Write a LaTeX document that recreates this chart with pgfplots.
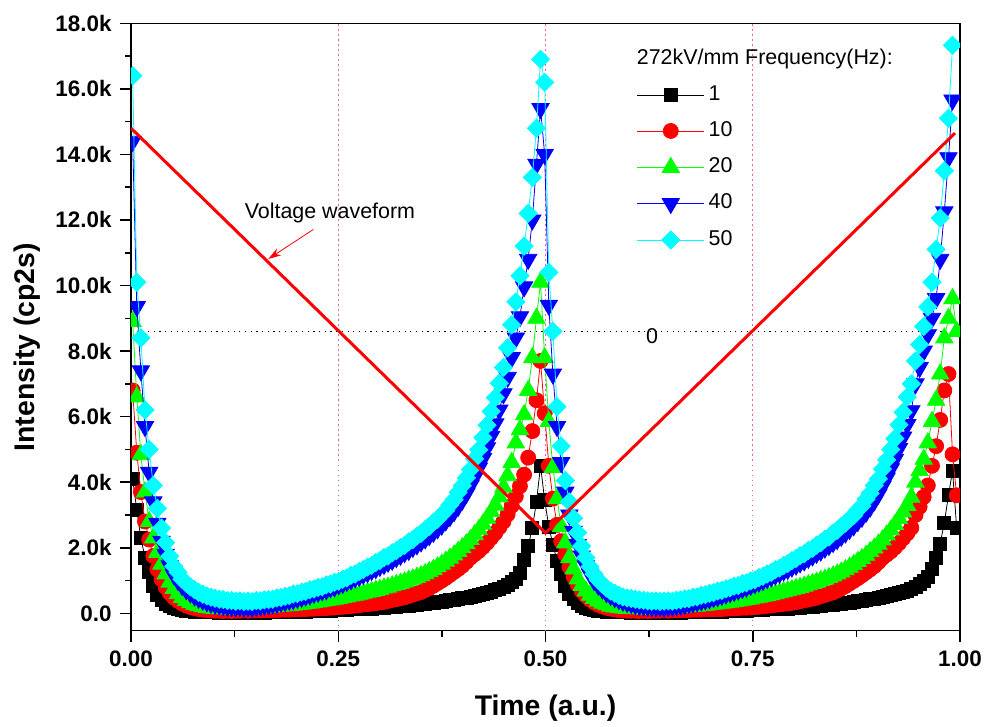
\documentclass[border=0pt]{standalone}
\usepackage{pgfplots}
\pgfplotsset{compat=1.18}
\usepackage{pgfplotstable}
\usepackage{fontspec}
\setmainfont{Liberation Sans}
\usetikzlibrary{arrows.meta}

\definecolor{pinkgrid}{RGB}{240,90,170}
\definecolor{mygreen}{RGB}{0,255,0}
\definecolor{mycyan}{RGB}{0,255,255}
\definecolor{myblue}{RGB}{0,0,255}
\definecolor{myred}{RGB}{255,0,0}

\pgfplotstableread{
t K R G B C
0.0020 4.1 6.8 8.9 14.4 16.4
0.0070 3.15 4.9 6.6 9.36 10.1
0.0119 2.3 3.7 4.84 7.4 8.4
0.0169 1.7 2.8 3.7 5.7 6.2
0.0219 1.25 2.25 2.8 4.3 5.0
0.0269 0.85 1.75 2.3 3.4 3.9
0.0318 0.56 1.34 1.86 2.75 3.2
0.0368 0.4 1.04 1.5 2.2 2.6
0.0418 0.3 0.8 1.2 1.8 2.16
0.0467 0.22 0.62 0.95 1.45 1.74
0.0517 0.17 0.48 0.76 1.18 1.43
0.0567 0.13 0.38 0.6 1.0 1.25
0.0616 0.1 0.3 0.48 0.85 1.04
0.0666 0.08 0.24 0.39 0.72 0.92
0.0716 0.06 0.19 0.32 0.62 0.81
0.0766 0.05 0.16 0.27 0.53 0.72
0.0815 0.04 0.13 0.23 0.46 0.64
0.0865 0.04 0.11 0.2 0.4 0.58
0.0915 0.03 0.1 0.18 0.35 0.53
0.0964 0.03 0.09 0.16 0.31 0.49
0.1014 0.03 0.08 0.15 0.28 0.46
0.1064 0.02 0.08 0.14 0.26 0.43
0.1113 0.02 0.07 0.14 0.24 0.42
0.1163 0.02 0.08 0.13 0.22 0.39
0.1213 0.01 0.07 0.14 0.21 0.39
0.1263 0.02 0.08 0.13 0.2 0.37
0.1312 0.01 0.08 0.14 0.21 0.38
0.1362 0.02 0.09 0.14 0.19 0.36
0.1412 0.01 0.08 0.15 0.2 0.37
0.1461 0.02 0.09 0.15 0.19 0.36
0.1511 0.02 0.09 0.16 0.22 0.39
0.1561 0.02 0.09 0.17 0.23 0.38
0.1610 0.02 0.1 0.17 0.25 0.41
0.1660 0.03 0.1 0.19 0.26 0.42
0.1710 0.03 0.1 0.19 0.29 0.43
0.1760 0.03 0.1 0.21 0.31 0.47
0.1809 0.03 0.11 0.22 0.34 0.48
0.1859 0.04 0.11 0.23 0.36 0.52
0.1909 0.04 0.11 0.24 0.4 0.54
0.1958 0.04 0.12 0.25 0.42 0.59
0.2008 0.05 0.12 0.27 0.46 0.6
0.2058 0.05 0.13 0.28 0.49 0.65
0.2107 0.05 0.13 0.3 0.53 0.67
0.2157 0.06 0.14 0.31 0.56 0.72
0.2207 0.06 0.14 0.33 0.61 0.74
0.2257 0.07 0.15 0.35 0.64 0.79
0.2306 0.07 0.16 0.37 0.69 0.81
0.2356 0.08 0.16 0.39 0.72 0.87
0.2406 0.08 0.17 0.41 0.78 0.89
0.2455 0.09 0.18 0.43 0.81 0.95
0.2505 0.1 0.19 0.45 0.87 0.98
0.2555 0.1 0.2 0.48 0.91 1.04
0.2604 0.11 0.21 0.5 0.97 1.08
0.2654 0.12 0.22 0.53 1.02 1.16
0.2704 0.12 0.24 0.55 1.08 1.2
0.2754 0.13 0.25 0.58 1.13 1.28
0.2803 0.14 0.27 0.61 1.19 1.33
0.2853 0.15 0.28 0.64 1.24 1.41
0.2903 0.15 0.3 0.67 1.31 1.46
0.2952 0.16 0.31 0.7 1.36 1.55
0.3002 0.17 0.33 0.73 1.43 1.61
0.3052 0.18 0.35 0.77 1.49 1.7
0.3101 0.19 0.38 0.8 1.56 1.75
0.3151 0.2 0.41 0.84 1.62 1.85
0.3201 0.21 0.43 0.88 1.7 1.91
0.3251 0.22 0.46 0.92 1.77 2.01
0.3300 0.23 0.49 0.96 1.85 2.07
0.3350 0.24 0.53 1.01 1.92 2.18
0.3400 0.26 0.57 1.05 2.01 2.25
0.3449 0.27 0.61 1.1 2.09 2.36
0.3499 0.28 0.65 1.15 2.18 2.44
0.3549 0.3 0.71 1.21 2.27 2.56
0.3598 0.31 0.77 1.27 2.37 2.65
0.3648 0.33 0.84 1.34 2.47 2.78
0.3698 0.34 0.92 1.42 2.58 2.87
0.3748 0.36 1.0 1.5 2.69 3.01
0.3797 0.38 1.08 1.59 2.82 3.14
0.3847 0.4 1.17 1.68 2.95 3.31
0.3897 0.42 1.26 1.78 3.1 3.47
0.3946 0.44 1.35 1.89 3.26 3.69
0.3996 0.46 1.45 2.0 3.45 3.89
0.4046 0.48 1.57 2.12 3.66 4.13
0.4095 0.51 1.7 2.25 3.9 4.39
0.4145 0.53 1.8 2.4 4.15 4.71
0.4195 0.56 1.9 2.55 4.43 4.99
0.4245 0.59 2.02 2.72 4.72 5.36
0.4294 0.62 2.15 2.9 5.05 5.74
0.4344 0.66 2.3 3.1 5.4 6.16
0.4394 0.7 2.45 3.3 5.78 6.58
0.4443 0.75 2.62 3.55 6.2 7.02
0.4493 0.8 2.8 3.85 6.7 7.5
0.4543 0.87 3.02 4.2 7.2 8.1
0.4592 0.95 3.28 4.6 7.8 8.8
0.4642 1.06 3.57 5.2 8.4 9.5
0.4692 1.24 3.88 5.6 9.05 10.3
0.4742 1.64 4.23 6.06 9.96 11.2
0.4791 2.05 4.75 6.8 10.8 12.2
0.4841 2.6 5.56 7.8 12.0 13.3
0.4891 3.4 6.5 9.0 13.7 14.8
0.4940 4.5 7.7 10.1 15.4 16.9
0.4990 3.45 6.1 7.8 14.0 16.2
0.5040 2.65 4.5 5.85 9.4 10.4
0.5089 2.1 3.5 4.45 7.3 8.6
0.5139 1.6 2.7 3.5 5.7 6.3
0.5189 1.2 2.2 2.65 4.6 5.1
0.5239 0.85 1.8 2.15 3.7 4.05
0.5288 0.6 1.42 1.7 3.0 3.4
0.5338 0.43 1.12 1.35 2.5 2.9
0.5388 0.31 0.88 1.05 2.1 2.46
0.5437 0.23 0.68 0.85 1.75 2.05
0.5487 0.17 0.54 0.68 1.45 1.7
0.5537 0.13 0.42 0.55 1.2 1.42
0.5586 0.1 0.33 0.45 1.0 1.2
0.5636 0.08 0.26 0.37 0.86 1.02
0.5686 0.06 0.21 0.31 0.74 0.88
0.5736 0.05 0.17 0.26 0.63 0.77
0.5785 0.04 0.14 0.22 0.55 0.68
0.5835 0.04 0.12 0.19 0.48 0.61
0.5885 0.03 0.1 0.17 0.42 0.55
0.5934 0.03 0.09 0.16 0.37 0.5
0.5984 0.03 0.08 0.15 0.33 0.47
0.6034 0.02 0.08 0.15 0.3 0.45
0.6083 0.02 0.08 0.14 0.27 0.43
0.6133 0.02 0.07 0.14 0.25 0.41
0.6183 0.02 0.08 0.13 0.23 0.4
0.6233 0.01 0.07 0.14 0.22 0.38
0.6282 0.02 0.08 0.13 0.21 0.37
0.6332 0.01 0.08 0.14 0.2 0.38
0.6382 0.02 0.08 0.14 0.21 0.36
0.6431 0.01 0.09 0.15 0.19 0.37
0.6481 0.02 0.08 0.15 0.21 0.38
0.6531 0.02 0.09 0.16 0.22 0.37
0.6580 0.02 0.09 0.17 0.24 0.4
0.6630 0.02 0.1 0.18 0.25 0.41
0.6680 0.03 0.1 0.19 0.27 0.44
0.6730 0.03 0.1 0.2 0.3 0.45
0.6779 0.03 0.11 0.21 0.32 0.49
0.6829 0.03 0.11 0.22 0.35 0.5
0.6879 0.04 0.11 0.24 0.38 0.55
0.6928 0.04 0.12 0.25 0.41 0.57
0.6978 0.04 0.12 0.26 0.44 0.61
0.7028 0.05 0.12 0.28 0.48 0.63
0.7077 0.05 0.13 0.29 0.51 0.68
0.7127 0.05 0.13 0.31 0.55 0.7
0.7177 0.06 0.14 0.32 0.59 0.75
0.7227 0.06 0.15 0.34 0.63 0.78
0.7276 0.07 0.15 0.36 0.67 0.83
0.7326 0.07 0.16 0.38 0.71 0.85
0.7376 0.08 0.17 0.4 0.76 0.91
0.7425 0.08 0.17 0.42 0.8 0.93
0.7475 0.09 0.18 0.44 0.85 0.99
0.7525 0.1 0.19 0.47 0.9 1.02
0.7574 0.1 0.2 0.49 0.95 1.09
0.7624 0.11 0.21 0.52 1.0 1.13
0.7674 0.12 0.23 0.54 1.06 1.2
0.7724 0.12 0.24 0.57 1.11 1.25
0.7773 0.13 0.26 0.6 1.17 1.33
0.7823 0.14 0.27 0.63 1.22 1.38
0.7873 0.15 0.29 0.66 1.29 1.46
0.7922 0.15 0.3 0.69 1.34 1.52
0.7972 0.16 0.32 0.72 1.41 1.61
0.8022 0.17 0.34 0.76 1.47 1.67
0.8071 0.18 0.37 0.79 1.54 1.76
0.8121 0.19 0.4 0.83 1.6 1.82
0.8171 0.2 0.42 0.87 1.68 1.92
0.8221 0.21 0.45 0.91 1.75 1.98
0.8270 0.22 0.48 0.95 1.83 2.08
0.8320 0.23 0.52 1.0 1.9 2.15
0.8370 0.25 0.56 1.04 1.99 2.26
0.8419 0.26 0.6 1.09 2.07 2.33
0.8469 0.27 0.64 1.14 2.16 2.45
0.8519 0.29 0.7 1.2 2.25 2.53
0.8568 0.3 0.76 1.26 2.35 2.66
0.8618 0.32 0.83 1.33 2.45 2.75
0.8668 0.33 0.91 1.41 2.56 2.88
0.8718 0.35 0.99 1.49 2.67 2.98
0.8767 0.37 1.07 1.58 2.8 3.15
0.8817 0.39 1.16 1.67 2.93 3.28
0.8867 0.41 1.25 1.77 3.08 3.48
0.8916 0.43 1.34 1.88 3.24 3.66
0.8966 0.45 1.44 1.99 3.43 3.9
0.9016 0.47 1.56 2.11 3.64 4.1
0.9065 0.5 1.69 2.24 3.88 4.4
0.9115 0.52 1.79 2.39 4.13 4.68
0.9165 0.55 1.89 2.54 4.41 5.0
0.9215 0.58 2.01 2.71 4.7 5.33
0.9264 0.61 2.14 2.89 5.03 5.75
0.9314 0.65 2.29 3.09 5.38 6.13
0.9364 0.69 2.44 3.29 5.76 6.6
0.9413 0.74 2.61 3.54 6.18 7.0
0.9463 0.82 3.0 4.0 7.0 7.7
0.9513 0.9 3.25 4.35 7.5 8.2
0.9562 1.0 3.55 4.7 8.0 8.75
0.9612 1.1 3.9 5.2 8.5 9.35
0.9662 1.35 4.5 5.85 9.0 10.1
0.9712 1.68 5.1 6.5 9.6 11.1
0.9761 2.13 5.9 7.3 10.8 12.06
0.9811 2.77 6.8 8.4 12.25 13.5
0.9861 3.6 7.3 9.0 13.9 15.1
0.9910 4.35 4.85 9.6 15.66 17.33
0.9960 2.6 3.6 8.6 nan nan
}\datatable

\begin{document}
\begin{tikzpicture}
\begin{axis}[
  name=ax, at={(0,0)}, anchor=south west,
  scale only axis, width=829bp, height=607.4bp,
  xmin=0, xmax=1, ymin=-0.53, ymax=18,
  clip marker paths=true,
  axis line style={line width=1.5bp},
  xtick={0,0.25,0.5,0.75,1}, xticklabels={0.00,0.25,0.50,0.75,1.00},
  ytick={0,2,4,6,8,10,12,14,16,18},
  yticklabels={0.0,2.0k,4.0k,6.0k,8.0k,10.0k,12.0k,14.0k,16.0k,18.0k},
  minor x tick num=1, minor y tick num=1,
  tick align=outside, xtick pos=bottom, ytick pos=left,
  major tick length=11bp, minor tick length=6bp,
  every tick/.style={line width=1.5bp, black},
  ticklabel style={font=\fontsize{22.5}{27}\selectfont\bfseries},
  xticklabel style={yshift=-6bp},
  yticklabel style={xshift=-5bp},
  xlabel={Time (a.u.)}, ylabel={Intensity (cp2s)},
  label style={font=\fontsize{28.5}{34}\selectfont\bfseries},
  xlabel style={at={(axis description cs:0.5,-0.128)}, anchor=center},
  ylabel style={at={(axis description cs:-0.1255,0.4666)}, anchor=center},
  legend style={draw=none, fill=none, at={(axis description cs:0.610,0.898)}, anchor=north west,
    inner sep=0pt, row sep=17bp, column sep=4bp,
    font=\fontsize{21.5}{26}\selectfont,
    nodes={inner sep=0pt, text height=15bp, text depth=4bp}},
  legend cell align=left,
  legend image code/.code={\draw[#1, mark repeat=2, mark phase=2] plot coordinates {(0bp,0bp) (33.5bp,0bp) (67bp,0bp)};},
]
\draw[pinkgrid, line width=1.2bp, dash pattern=on 1.2bp off 3.8bp] (axis cs:0.25,-0.53) -- (axis cs:0.25,18);
\draw[pinkgrid, line width=1.2bp, dash pattern=on 1.2bp off 3.8bp] (axis cs:0.5,-0.53) -- (axis cs:0.5,18);
\draw[pinkgrid, line width=1.2bp, dash pattern=on 1.2bp off 3.8bp] (axis cs:0.75,-0.53) -- (axis cs:0.75,18);
\draw[black, line width=1.2bp, dash pattern=on 1.2bp off 4.5bp] (axis cs:0,8.6) -- (axis cs:1,8.6);

\addplot[black, line width=0.8bp, mark=square*, mark size=6.5bp, mark options={solid, fill=black, draw=none}] table[x=t, y=K] {\datatable};
\addlegendentry{1}
\addplot[myred, line width=0.8bp, mark=*, mark size=7.5bp, mark options={solid, fill=myred, draw=none}] table[x=t, y=R] {\datatable};
\addlegendentry{10}
\addplot[mygreen, line width=0.8bp, mark=triangle*, mark size=10bp, mark options={solid, fill=mygreen, draw=none}] table[x=t, y=G] {\datatable};
\addlegendentry{20}
\addplot[myblue, line width=0.8bp, mark=triangle*, mark size=10bp, mark options={solid, fill=myblue, draw=none, rotate=180}] table[x=t, y=B] {\datatable};
\addlegendentry{40}
\addplot[mycyan, line width=0.8bp, mark=square*, mark size=6.4bp, mark options={solid, fill=mycyan, draw=none, rotate=45}] table[x=t, y=C] {\datatable};
\addlegendentry{50}

\addplot[myred, line width=3bp, no markers, forget plot] coordinates {(0,14.8) (0.5,2.45) (0.994,14.65)};

\draw[myred, line width=0.8bp, -{Stealth[length=13bp,width=8bp]}] (axis cs:0.2199,11.71) -- (axis cs:0.1656,10.81);
\node[font=\fontsize{21.5}{26}\selectfont, anchor=center] at (axis cs:0.240,12.21) {Voltage waveform};
\node[font=\fontsize{21.5}{26}\selectfont, anchor=center] at (axis cs:0.6285,8.46) {0};
\node[font=\fontsize{21.5}{26}\selectfont, anchor=west, inner sep=0pt] at (axis description cs:0.610,0.9414) {272kV/mm Frequency(Hz):};
\end{axis}
\pgfresetboundingbox
\path[use as bounding box] (-131bp,-96.3bp) rectangle (855bp,630.7bp);
\end{tikzpicture}
\end{document}
